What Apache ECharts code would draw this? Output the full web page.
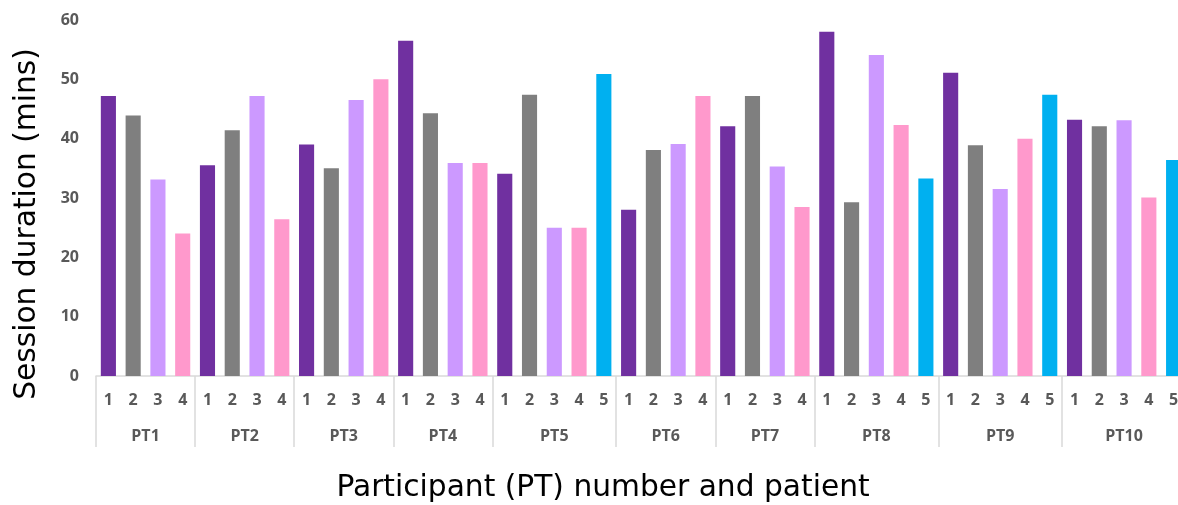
<!DOCTYPE html>
<html>
<head>
<meta charset="utf-8">
<script src="https://cdn.jsdelivr.net/npm/echarts@6/dist/echarts.min.js"></script>
<style>html,body{margin:0;padding:0;background:#fff;overflow:hidden;}#c{width:1178px;height:505px;}</style>
</head>
<body>
<div id="c"></div>
<script>
// Participants (outer category labels)
const participants = ['PT1','PT2','PT3','PT4','PT5','PT6','PT7','PT8','PT9','PT10'];
// Session durations (mins) per participant, one value per patient
const pt1  = [47.2, 43.9, 33.1, 24.0];
const pt2  = [35.5, 41.4, 47.2, 26.4];
const pt3  = [39.0, 35.0, 46.5, 50.0];
const pt4  = [56.5, 44.3, 35.9, 35.9];
const pt5  = [34.1, 47.4, 25.0, 25.0, 50.9];
const pt6  = [28.0, 38.1, 39.1, 47.2];
const pt7  = [42.1, 47.2, 35.3, 28.5];
const pt8  = [58.0, 29.3, 54.1, 42.3, 33.3];
const pt9  = [51.1, 38.9, 31.5, 40.0, 47.4];
const pt10 = [43.2, 42.1, 43.1, 30.1, 36.4];
// Patient colours (patient 1..5)
const patientColors = ['#7030A0', '#7F7F7F', '#CC99FF', '#FF99CC', '#00B0F0'];
// Y axis ticks
const yTicks = [0, 10, 20, 30, 40, 50, 60];

const groups = [pt1, pt2, pt3, pt4, pt5, pt6, pt7, pt8, pt9, pt10];
const cats = [], values = [], patientIdx = [];
const boundaries = new Set([0]);
const centers = {};
let pos = 0;
groups.forEach((g, gi) => {
  g.forEach((v, i) => {
    cats.push(participants[gi] + '-' + (i + 1));
    values.push(v);
    patientIdx.push(i);
  });
  centers[pos * 2 + g.length] = participants[gi];
  pos += g.length;
  boundaries.add(pos * 2);
});
const halfCats = [];
for (let k = 0; k <= pos * 2; k++) halfCats.push('h' + k);

const labelFont = { color: '#595959', fontWeight: 'bold', fontSize: 16, fontFamily: 'Open Sans' };

const chart = echarts.init(document.getElementById('c'), null, { renderer: 'canvas' });
chart.setOption({
  animation: false,
  backgroundColor: '#ffffff',
  grid: { left: 96, width: 1090, top: 20, bottom: 129, containLabel: false, outerBoundsMode: 'none' },
  xAxis: [
    {
      type: 'category',
      data: cats,
      position: 'bottom',
      axisLine: { show: true, lineStyle: { color: '#D9D9D9', width: 1.5 } },
      axisTick: { show: false },
      axisLabel: Object.assign({
        interval: 0,
        margin: 16,
        formatter: (v) => v.split('-')[1]
      }, labelFont),
      splitLine: { show: false }
    },
    {
      type: 'category',
      data: halfCats,
      boundaryGap: false,
      position: 'bottom',
      axisLine: { show: false },
      axisTick: {
        show: true,
        length: 71,
        interval: (idx) => boundaries.has(idx),
        lineStyle: { color: '#D9D9D9', width: 1.5 }
      },
      axisLabel: Object.assign({
        interval: (idx) => centers[idx] !== undefined,
        margin: 52,
        formatter: (v, idx) => centers[idx] || ''
      }, labelFont),
      splitLine: { show: false }
    }
  ],
  yAxis: {
    type: 'value',
    min: yTicks[0],
    max: yTicks[yTicks.length - 1],
    interval: 10,
    axisLine: { show: false },
    axisTick: { show: false },
    splitLine: { show: false },
    axisLabel: Object.assign({ margin: 17 }, labelFont)
  },
  series: [{
    type: 'bar',
    xAxisIndex: 0,
    data: values,
    barCategoryGap: '39%',
    itemStyle: { color: (p) => patientColors[patientIdx[p.dataIndex]] }
  }],
  graphic: [
    {
      type: 'text',
      x: 27, y: 224,
      rotation: Math.PI / 2,
      style: {
        text: 'Session duration (mins)',
        fill: '#000000',
        font: '29.7px "DejaVu Sans"',
        textAlign: 'center',
        textVerticalAlign: 'middle'
      }
    },
    {
      type: 'text',
      x: 603, y: 488,
      style: {
        text: 'Participant (PT) number and patient',
        fill: '#000000',
        font: '29.7px "DejaVu Sans"',
        textAlign: 'center',
        textVerticalAlign: 'middle'
      }
    }
  ]
});
</script>
</body>
</html>
